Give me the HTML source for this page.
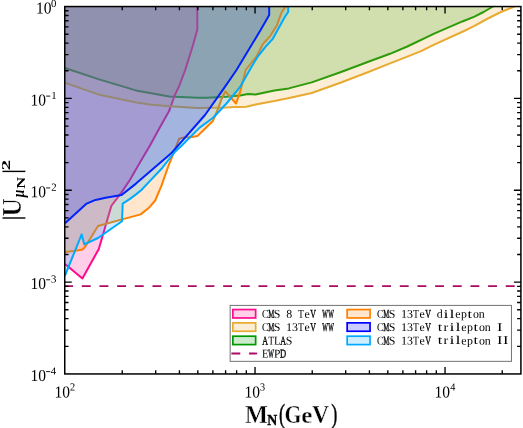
<!DOCTYPE html>
<html><head><meta charset="utf-8"><title>chart</title>
<style>
html,body{margin:0;padding:0;background:#fff;}
svg{will-change:transform;display:block;position:absolute;left:0;top:0;}
text{font-family:"Liberation Serif",serif;fill:#000;}
.mono{font-family:"Liberation Mono",monospace;}
</style></head><body>
<svg width="523" height="428" viewBox="0 0 523 428">
<rect x="0" y="0" width="523" height="428" fill="#fff"/>
<defs><clipPath id="ax"><rect x="64.75" y="6.55" width="456.15" height="367.4"/></clipPath></defs>
<g clip-path="url(#ax)">
<polygon points="62.8,68.0 65.0,68.0 98.2,79.1 138.4,91.1 150.0,93.0 169.1,96.4 197.8,97.7 207.3,97.7 226.5,96.8 240.3,95.4 247.9,94.1 255.6,94.5 274.4,90.6 288.8,88.4 311.7,82.4 340.4,72.2 369.0,61.5 390.0,53.8 407.3,46.5 434.7,33.4 463.0,21.2 474.5,16.6 483.6,12.0 493.0,6.5 493.0,4.5 62.8,4.5" fill="#009900" fill-opacity="0.2" stroke="none"/>
<polyline points="65.0,68.0 98.2,79.1 138.4,91.1 150.0,93.0 169.1,96.4 197.8,97.7 207.3,97.7 226.5,96.8 240.3,95.4 247.9,94.1 255.6,94.5 274.4,90.6 288.8,88.4 311.7,82.4 340.4,72.2 369.0,61.5 390.0,53.8 407.3,46.5 434.7,33.4 463.0,21.2 474.5,16.6 483.6,12.0 493.0,6.5" fill="none" stroke="#009900" stroke-width="2.0" stroke-linejoin="round" stroke-linecap="butt"/>
<polygon points="62.8,264.0 65.0,264.0 82.4,278.4 98.8,249.0 111.3,206.0 121.2,192.9 130.0,179.8 140.5,161.5 150.0,145.5 158.4,130.0 169.1,111.1 174.9,94.9 178.8,87.0 185.2,70.0 192.8,45.7 197.3,29.8 197.3,6.5 197.3,4.5 62.8,4.5" fill="#ff0a8c" fill-opacity="0.2" stroke="none"/>
<polyline points="65.0,264.0 82.4,278.4 98.8,249.0 111.3,206.0 121.2,192.9 130.0,179.8 140.5,161.5 150.0,145.5 158.4,130.0 169.1,111.1 174.9,94.9 178.8,87.0 185.2,70.0 192.8,45.7 197.3,29.8 197.3,6.5" fill="none" stroke="#ff0a8c" stroke-width="2.0" stroke-linejoin="round" stroke-linecap="butt"/>
<polygon points="62.8,82.7 65.0,82.7 98.2,94.4 136.5,102.6 150.0,104.4 169.1,106.3 197.8,107.9 226.5,107.5 234.2,106.9 240.3,107.1 246.4,106.8 255.6,104.5 274.4,101.1 289.2,97.9 311.7,93.0 340.4,82.7 369.0,71.7 390.0,63.4 407.3,56.6 421.0,51.1 434.7,44.3 463.0,31.5 474.5,25.8 485.9,19.5 500.9,12.0 514.6,6.5 514.6,4.5 62.8,4.5" fill="#e8aa30" fill-opacity="0.2" stroke="none"/>
<polyline points="65.0,82.7 98.2,94.4 136.5,102.6 150.0,104.4 169.1,106.3 197.8,107.9 226.5,107.5 234.2,106.9 240.3,107.1 246.4,106.8 255.6,104.5 274.4,101.1 289.2,97.9 311.7,93.0 340.4,82.7 369.0,71.7 390.0,63.4 407.3,56.6 421.0,51.1 434.7,44.3 463.0,31.5 474.5,25.8 485.9,19.5 500.9,12.0 514.6,6.5" fill="none" stroke="#e8aa30" stroke-width="2.0" stroke-linejoin="round" stroke-linecap="butt"/>
<polygon points="62.8,252.0 65.0,252.0 74.0,251.0 82.4,249.5 85.2,246.8 98.0,226.0 121.2,219.6 140.7,214.4 148.9,207.8 155.2,200.5 161.5,185.7 168.4,166.0 172.1,156.8 179.2,138.6 185.2,137.2 190.8,137.2 197.4,136.1 205.4,128.3 213.1,120.7 217.9,109.2 221.7,98.7 225.4,91.4 236.0,103.5 239.9,92.9 245.7,70.0 256.8,56.0 262.8,44.2 270.2,36.1 276.8,25.4 281.5,12.7 285.5,6.5 285.5,4.5 62.8,4.5" fill="#ff8000" fill-opacity="0.2" stroke="none"/>
<polyline points="65.0,252.0 74.0,251.0 82.4,249.5 85.2,246.8 98.0,226.0 121.2,219.6 140.7,214.4 148.9,207.8 155.2,200.5 161.5,185.7 168.4,166.0 172.1,156.8 179.2,138.6 185.2,137.2 190.8,137.2 197.4,136.1 205.4,128.3 213.1,120.7 217.9,109.2 221.7,98.7 225.4,91.4 236.0,103.5 239.9,92.9 245.7,70.0 256.8,56.0 262.8,44.2 270.2,36.1 276.8,25.4 281.5,12.7 285.5,6.5" fill="none" stroke="#ff8000" stroke-width="2.0" stroke-linejoin="round" stroke-linecap="butt"/>
<polygon points="62.8,223.3 65.0,223.3 86.1,203.9 95.5,199.9 105.6,197.7 121.6,195.0 136.0,183.6 155.2,167.1 171.2,153.3 205.0,115.0 223.7,88.7 236.5,70.0 260.6,30.0 269.2,14.9 269.2,6.5 269.2,4.5 62.8,4.5" fill="#0000ff" fill-opacity="0.2" stroke="none"/>
<polyline points="65.0,223.3 86.1,203.9 95.5,199.9 105.6,197.7 121.6,195.0 136.0,183.6 155.2,167.1 171.2,153.3 205.0,115.0 223.7,88.7 236.5,70.0 260.6,30.0 269.2,14.9 269.2,6.5" fill="none" stroke="#0000ff" stroke-width="2.0" stroke-linejoin="round" stroke-linecap="butt"/>
<polygon points="62.8,275.5 65.0,275.5 81.7,234.4 84.3,244.4 98.0,238.0 122.0,221.2 122.7,203.7 130.0,198.9 136.0,194.4 141.4,190.0 150.0,180.9 162.0,168.2 168.0,160.5 175.0,151.8 181.0,146.2 199.7,127.6 213.1,117.8 226.5,103.5 239.9,87.2 252.0,65.9 258.1,56.0 266.1,46.2 272.8,38.8 284.9,16.7 288.2,12.0 288.2,6.5 288.2,4.5 62.8,4.5" fill="#00aaff" fill-opacity="0.2" stroke="none"/>
<polyline points="65.0,275.5 81.7,234.4 84.3,244.4 98.0,238.0 122.0,221.2 122.7,203.7 130.0,198.9 136.0,194.4 141.4,190.0 150.0,180.9 162.0,168.2 168.0,160.5 175.0,151.8 181.0,146.2 199.7,127.6 213.1,117.8 226.5,103.5 239.9,87.2 252.0,65.9 258.1,56.0 266.1,46.2 272.8,38.8 284.9,16.7 288.2,12.0 288.2,6.5" fill="none" stroke="#00aaff" stroke-width="2.0" stroke-linejoin="round" stroke-linecap="butt"/>
<line x1="64.15" y1="286.1" x2="520.9" y2="286.1" stroke="#ab0a65" stroke-width="1.8" stroke-dasharray="8.9 8.765"/>
</g>
<path d="M122.23,373.95v-3.8M122.23,6.55v3.8M155.68,373.95v-3.8M155.68,6.55v3.8M179.42,373.95v-3.8M179.42,6.55v3.8M197.83,373.95v-3.8M197.83,6.55v3.8M212.88,373.95v-3.8M212.88,6.55v3.8M225.60,373.95v-3.8M225.60,6.55v3.8M236.62,373.95v-3.8M236.62,6.55v3.8M246.34,373.95v-3.8M246.34,6.55v3.8M255.03,373.95v-7M255.03,6.55v7M312.23,373.95v-3.8M312.23,6.55v3.8M345.68,373.95v-3.8M345.68,6.55v3.8M369.42,373.95v-3.8M369.42,6.55v3.8M387.83,373.95v-3.8M387.83,6.55v3.8M402.88,373.95v-3.8M402.88,6.55v3.8M415.60,373.95v-3.8M415.60,6.55v3.8M426.62,373.95v-3.8M426.62,6.55v3.8M436.34,373.95v-3.8M436.34,6.55v3.8M445.03,373.95v-7M445.03,6.55v7M502.23,373.95v-3.8M502.23,6.55v3.8M64.75,346.30h3.8M520.9,346.30h-3.8M64.75,330.13h3.8M520.9,330.13h-3.8M64.75,318.65h3.8M520.9,318.65h-3.8M64.75,309.75h3.8M520.9,309.75h-3.8M64.75,302.48h3.8M520.9,302.48h-3.8M64.75,296.33h3.8M520.9,296.33h-3.8M64.75,291.00h3.8M520.9,291.00h-3.8M64.75,286.30h3.8M520.9,286.30h-3.8M64.75,282.10h7M520.9,282.10h-7M64.75,254.45h3.8M520.9,254.45h-3.8M64.75,238.28h3.8M520.9,238.28h-3.8M64.75,226.80h3.8M520.9,226.80h-3.8M64.75,217.90h3.8M520.9,217.90h-3.8M64.75,210.63h3.8M520.9,210.63h-3.8M64.75,204.48h3.8M520.9,204.48h-3.8M64.75,199.15h3.8M520.9,199.15h-3.8M64.75,194.45h3.8M520.9,194.45h-3.8M64.75,190.25h7M520.9,190.25h-7M64.75,162.60h3.8M520.9,162.60h-3.8M64.75,146.43h3.8M520.9,146.43h-3.8M64.75,134.95h3.8M520.9,134.95h-3.8M64.75,126.05h3.8M520.9,126.05h-3.8M64.75,118.78h3.8M520.9,118.78h-3.8M64.75,112.63h3.8M520.9,112.63h-3.8M64.75,107.30h3.8M520.9,107.30h-3.8M64.75,102.60h3.8M520.9,102.60h-3.8M64.75,98.40h7M520.9,98.40h-7M64.75,70.75h3.8M520.9,70.75h-3.8M64.75,54.58h3.8M520.9,54.58h-3.8M64.75,43.10h3.8M520.9,43.10h-3.8M64.75,34.20h3.8M520.9,34.20h-3.8M64.75,26.93h3.8M520.9,26.93h-3.8M64.75,20.78h3.8M520.9,20.78h-3.8M64.75,15.45h3.8M520.9,15.45h-3.8M64.75,10.75h3.8M520.9,10.75h-3.8" stroke="#000" stroke-width="1.35" fill="none"/>
<rect x="64.75" y="6.55" width="456.15" height="367.4" fill="none" stroke="#000" stroke-width="1.5"/>
<text transform="translate(51.11,7.05) scale(0.1080,0.1080) rotate(0.03)" font-size="100" >0</text><text transform="translate(36.06,13.55) scale(0.1553,0.1670) rotate(0.03)" font-size="100" >10</text>
<text transform="translate(51.35,98.90) scale(0.1080,0.1080) rotate(0.03)" font-size="100" >1</text><rect x="46.1" y="95.65" width="4.1" height="0.9"/><text transform="translate(30.56,105.40) scale(0.1553,0.1670) rotate(0.03)" font-size="100" >10</text>
<text transform="translate(51.30,190.75) scale(0.1080,0.1080) rotate(0.03)" font-size="100" >2</text><rect x="46.1" y="187.50" width="4.1" height="0.9"/><text transform="translate(30.56,197.25) scale(0.1553,0.1670) rotate(0.03)" font-size="100" >10</text>
<text transform="translate(51.12,282.60) scale(0.1080,0.1080) rotate(0.03)" font-size="100" >3</text><rect x="46.1" y="279.35" width="4.1" height="0.9"/><text transform="translate(30.56,289.10) scale(0.1553,0.1670) rotate(0.03)" font-size="100" >10</text>
<text transform="translate(50.87,374.45) scale(0.1080,0.1080) rotate(0.03)" font-size="100" >4</text><rect x="46.1" y="371.20" width="4.1" height="0.9"/><text transform="translate(30.56,380.95) scale(0.1553,0.1670) rotate(0.03)" font-size="100" >10</text>
<text transform="translate(54.56,397.50) scale(0.1553,0.1670) rotate(0.03)" font-size="100" >10</text><text transform="translate(70.03,390.60) scale(0.1026,0.1080) rotate(0.03)" font-size="100" >2</text>
<text transform="translate(244.56,397.50) scale(0.1553,0.1670) rotate(0.03)" font-size="100" >10</text><text transform="translate(259.99,390.60) scale(0.1026,0.1080) rotate(0.03)" font-size="100" >3</text>
<text transform="translate(434.56,397.50) scale(0.1553,0.1670) rotate(0.03)" font-size="100" >10</text><text transform="translate(450.28,390.60) scale(0.1026,0.1080) rotate(0.03)" font-size="100" >4</text>
<g><text transform="translate(244.99,422.90) scale(0.2428,0.2489)" font-size="100" font-weight="bold" stroke="#fff" stroke-width="0.35" vector-effect="non-scaling-stroke">M</text><text transform="translate(267.14,424.80) scale(0.1377,0.1390)" font-size="100" font-weight="bold" stroke="#000" stroke-width="0.35" vector-effect="non-scaling-stroke">N</text><text transform="translate(278.90,422.75) scale(0.1830,0.2746)" font-size="100"  stroke="#000" stroke-width="0.35" vector-effect="non-scaling-stroke">(</text><text transform="translate(284.44,423.05) scale(0.2181,0.2545)" font-size="100" font-weight="bold" stroke="#fff" stroke-width="0.35" vector-effect="non-scaling-stroke">G</text><text transform="translate(301.25,423.08) scale(0.2501,0.2357)" font-size="100" font-weight="bold" stroke="#fff" stroke-width="0.35" vector-effect="non-scaling-stroke">e</text><text transform="translate(312.03,422.82) scale(0.2372,0.2478)" font-size="100" font-weight="bold" stroke="#fff" stroke-width="0.35" vector-effect="non-scaling-stroke">V</text><text transform="translate(331.21,422.75) scale(0.1830,0.2746)" font-size="100"  stroke="#000" stroke-width="0.35" vector-effect="non-scaling-stroke">)</text></g>
<g transform="translate(20.5,190) rotate(-90)"><rect x="-28.7" y="-18" width="1.4" height="22.9"/><text transform="translate(-26.43,0.15) scale(0.2528,0.2650)" font-size="100" font-weight="bold" stroke="#fff" stroke-width="0.35" vector-effect="non-scaling-stroke">U</text><text transform="translate(-7.32,3.14) scale(0.1361,0.1578)" font-size="100" font-weight="bold" font-style="italic" >μ</text><text transform="translate(1.19,4.00) scale(0.1652,0.1298)" font-size="100" font-weight="bold" >N</text><rect x="17.9" y="-18" width="1.4" height="22.9"/><text transform="translate(19.72,-10.70) scale(0.2096,0.1238)" font-size="100" font-weight="bold" >2</text></g>
<rect x="230.15" y="305.4" width="281.29999999999995" height="55.950000000000045" fill="#fff" stroke="#727272" stroke-width="1"/>
<rect x="232.85" y="309.55" width="22.80" height="8.40" fill="#ff0a8c" fill-opacity="0.2" stroke="none"/><rect x="232.85" y="309.55" width="22.80" height="8.40" fill="none" stroke="#ff0a8c" stroke-width="1.7"/>
<text transform="translate(261.99,317.75) scale(0.0981,0.1190) rotate(0.03)" font-size="100">C</text><text transform="translate(268.18,317.75) scale(0.0674,0.1190) rotate(0.03)" font-size="100" stroke="#000" stroke-width="0.3" vector-effect="non-scaling-stroke">M</text><text transform="translate(273.81,317.75) scale(0.1190,0.1190) rotate(0.03)" font-size="100">S</text><text transform="translate(286.14,317.75) scale(0.1190,0.1190) rotate(0.03)" font-size="100">8</text><text transform="translate(298.09,317.75) scale(0.0972,0.1190) rotate(0.03)" font-size="100">T</text><text transform="translate(304.38,317.75) scale(0.1190,0.1190) rotate(0.03)" font-size="100">e</text><text transform="translate(310.14,317.75) scale(0.0800,0.1190) rotate(0.03)" font-size="100" stroke="#000" stroke-width="0.3" vector-effect="non-scaling-stroke">V</text><text transform="translate(322.18,317.75) scale(0.0595,0.1190) rotate(0.03)" font-size="100" stroke="#000" stroke-width="0.3" vector-effect="non-scaling-stroke">W</text><text transform="translate(328.16,317.75) scale(0.0595,0.1190) rotate(0.03)" font-size="100" stroke="#000" stroke-width="0.3" vector-effect="non-scaling-stroke">W</text>
<rect x="232.85" y="322.85" width="22.80" height="8.40" fill="#e8aa30" fill-opacity="0.2" stroke="none"/><rect x="232.85" y="322.85" width="22.80" height="8.40" fill="none" stroke="#e8aa30" stroke-width="1.7"/>
<text transform="translate(261.99,331.05) scale(0.0981,0.1190) rotate(0.03)" font-size="100">C</text><text transform="translate(268.18,331.05) scale(0.0674,0.1190) rotate(0.03)" font-size="100" stroke="#000" stroke-width="0.3" vector-effect="non-scaling-stroke">M</text><text transform="translate(273.81,331.05) scale(0.1190,0.1190) rotate(0.03)" font-size="100">S</text><text transform="translate(285.89,331.05) scale(0.1221,0.1190) rotate(0.03)" font-size="100">1</text><text transform="translate(292.06,331.05) scale(0.1190,0.1190) rotate(0.03)" font-size="100">3</text><text transform="translate(298.09,331.05) scale(0.0972,0.1190) rotate(0.03)" font-size="100">T</text><text transform="translate(304.38,331.05) scale(0.1190,0.1190) rotate(0.03)" font-size="100">e</text><text transform="translate(310.14,331.05) scale(0.0800,0.1190) rotate(0.03)" font-size="100" stroke="#000" stroke-width="0.3" vector-effect="non-scaling-stroke">V</text><text transform="translate(322.18,331.05) scale(0.0595,0.1190) rotate(0.03)" font-size="100" stroke="#000" stroke-width="0.3" vector-effect="non-scaling-stroke">W</text><text transform="translate(328.16,331.05) scale(0.0595,0.1190) rotate(0.03)" font-size="100" stroke="#000" stroke-width="0.3" vector-effect="non-scaling-stroke">W</text>
<rect x="232.85" y="336.20" width="22.80" height="8.40" fill="#009900" fill-opacity="0.2" stroke="none"/><rect x="232.85" y="336.20" width="22.80" height="8.40" fill="none" stroke="#009900" stroke-width="1.7"/>
<text transform="translate(262.31,344.40) scale(0.0794,0.1190) rotate(0.03)" font-size="100" stroke="#000" stroke-width="0.3" vector-effect="non-scaling-stroke">A</text><text transform="translate(268.19,344.40) scale(0.0972,0.1190) rotate(0.03)" font-size="100">T</text><text transform="translate(274.04,344.40) scale(0.1073,0.1190) rotate(0.03)" font-size="100">L</text><text transform="translate(280.25,344.40) scale(0.0794,0.1190) rotate(0.03)" font-size="100" stroke="#000" stroke-width="0.3" vector-effect="non-scaling-stroke">A</text><text transform="translate(285.77,344.40) scale(0.1190,0.1190) rotate(0.03)" font-size="100">S</text>
<line x1="231.4" y1="353.5" x2="257.2" y2="353.5" stroke="#ab0a65" stroke-width="1.8" stroke-dasharray="8.9 8.765"/>
<text transform="translate(262.09,357.50) scale(0.1052,0.1190) rotate(0.03)" font-size="100">E</text><text transform="translate(268.36,357.50) scale(0.0595,0.1190) rotate(0.03)" font-size="100" stroke="#000" stroke-width="0.3" vector-effect="non-scaling-stroke">W</text><text transform="translate(274.02,357.50) scale(0.1149,0.1190) rotate(0.03)" font-size="100">P</text><text transform="translate(280.08,357.50) scale(0.0857,0.1190) rotate(0.03)" font-size="100" stroke="#000" stroke-width="0.3" vector-effect="non-scaling-stroke">D</text>
<rect x="347.15" y="309.55" width="22.90" height="8.40" fill="#ff8000" fill-opacity="0.2" stroke="none"/><rect x="347.15" y="309.55" width="22.90" height="8.40" fill="none" stroke="#ff8000" stroke-width="1.7"/>
<text transform="translate(376.99,317.75) scale(0.0981,0.1190) rotate(0.03)" font-size="100">C</text><text transform="translate(383.18,317.75) scale(0.0674,0.1190) rotate(0.03)" font-size="100" stroke="#000" stroke-width="0.3" vector-effect="non-scaling-stroke">M</text><text transform="translate(388.81,317.75) scale(0.1190,0.1190) rotate(0.03)" font-size="100">S</text><text transform="translate(400.89,317.75) scale(0.1221,0.1190) rotate(0.03)" font-size="100">1</text><text transform="translate(407.06,317.75) scale(0.1190,0.1190) rotate(0.03)" font-size="100">3</text><text transform="translate(413.09,317.75) scale(0.0972,0.1190) rotate(0.03)" font-size="100">T</text><text transform="translate(419.38,317.75) scale(0.1190,0.1190) rotate(0.03)" font-size="100">e</text><text transform="translate(425.14,317.75) scale(0.0800,0.1190) rotate(0.03)" font-size="100" stroke="#000" stroke-width="0.3" vector-effect="non-scaling-stroke">V</text><text transform="translate(436.87,317.75) scale(0.1190,0.1190) rotate(0.03)" font-size="100">d</text><text transform="translate(443.44,317.75) scale(0.1808,0.1190) rotate(0.03)" font-size="100">i</text><text transform="translate(449.44,317.75) scale(0.1808,0.1190) rotate(0.03)" font-size="100">l</text><text transform="translate(455.26,317.75) scale(0.1190,0.1190) rotate(0.03)" font-size="100">e</text><text transform="translate(461.07,317.75) scale(0.1190,0.1190) rotate(0.03)" font-size="100">p</text><text transform="translate(467.58,317.75) scale(0.1640,0.1190) rotate(0.03)" font-size="100">t</text><text transform="translate(472.90,317.75) scale(0.1190,0.1190) rotate(0.03)" font-size="100">o</text><text transform="translate(478.83,317.75) scale(0.1190,0.1190) rotate(0.03)" font-size="100">n</text>
<rect x="347.15" y="322.85" width="22.90" height="8.40" fill="#0000ff" fill-opacity="0.2" stroke="none"/><rect x="347.15" y="322.85" width="22.90" height="8.40" fill="none" stroke="#0000ff" stroke-width="1.7"/>
<text transform="translate(376.99,331.05) scale(0.0981,0.1190) rotate(0.03)" font-size="100">C</text><text transform="translate(383.18,331.05) scale(0.0674,0.1190) rotate(0.03)" font-size="100" stroke="#000" stroke-width="0.3" vector-effect="non-scaling-stroke">M</text><text transform="translate(388.81,331.05) scale(0.1190,0.1190) rotate(0.03)" font-size="100">S</text><text transform="translate(400.89,331.05) scale(0.1221,0.1190) rotate(0.03)" font-size="100">1</text><text transform="translate(407.06,331.05) scale(0.1190,0.1190) rotate(0.03)" font-size="100">3</text><text transform="translate(413.09,331.05) scale(0.0972,0.1190) rotate(0.03)" font-size="100">T</text><text transform="translate(419.38,331.05) scale(0.1190,0.1190) rotate(0.03)" font-size="100">e</text><text transform="translate(425.14,331.05) scale(0.0800,0.1190) rotate(0.03)" font-size="100" stroke="#000" stroke-width="0.3" vector-effect="non-scaling-stroke">V</text><text transform="translate(437.68,331.05) scale(0.1640,0.1190) rotate(0.03)" font-size="100">t</text><text transform="translate(443.54,331.05) scale(0.1414,0.1190) rotate(0.03)" font-size="100">r</text><text transform="translate(449.42,331.05) scale(0.1808,0.1190) rotate(0.03)" font-size="100">i</text><text transform="translate(455.42,331.05) scale(0.1808,0.1190) rotate(0.03)" font-size="100">l</text><text transform="translate(461.24,331.05) scale(0.1190,0.1190) rotate(0.03)" font-size="100">e</text><text transform="translate(467.05,331.05) scale(0.1190,0.1190) rotate(0.03)" font-size="100">p</text><text transform="translate(473.56,331.05) scale(0.1640,0.1190) rotate(0.03)" font-size="100">t</text><text transform="translate(478.88,331.05) scale(0.1190,0.1190) rotate(0.03)" font-size="100">o</text><text transform="translate(484.81,331.05) scale(0.1190,0.1190) rotate(0.03)" font-size="100">n</text><text transform="translate(497.05,331.05) scale(0.1643,0.1190) rotate(0.03)" font-size="100">I</text>
<rect x="347.15" y="336.20" width="22.90" height="8.40" fill="#00aaff" fill-opacity="0.2" stroke="none"/><rect x="347.15" y="336.20" width="22.90" height="8.40" fill="none" stroke="#00aaff" stroke-width="1.7"/>
<text transform="translate(376.99,344.40) scale(0.0981,0.1190) rotate(0.03)" font-size="100">C</text><text transform="translate(383.18,344.40) scale(0.0674,0.1190) rotate(0.03)" font-size="100" stroke="#000" stroke-width="0.3" vector-effect="non-scaling-stroke">M</text><text transform="translate(388.81,344.40) scale(0.1190,0.1190) rotate(0.03)" font-size="100">S</text><text transform="translate(400.89,344.40) scale(0.1221,0.1190) rotate(0.03)" font-size="100">1</text><text transform="translate(407.06,344.40) scale(0.1190,0.1190) rotate(0.03)" font-size="100">3</text><text transform="translate(413.09,344.40) scale(0.0972,0.1190) rotate(0.03)" font-size="100">T</text><text transform="translate(419.38,344.40) scale(0.1190,0.1190) rotate(0.03)" font-size="100">e</text><text transform="translate(425.14,344.40) scale(0.0800,0.1190) rotate(0.03)" font-size="100" stroke="#000" stroke-width="0.3" vector-effect="non-scaling-stroke">V</text><text transform="translate(437.68,344.40) scale(0.1640,0.1190) rotate(0.03)" font-size="100">t</text><text transform="translate(443.54,344.40) scale(0.1414,0.1190) rotate(0.03)" font-size="100">r</text><text transform="translate(449.42,344.40) scale(0.1808,0.1190) rotate(0.03)" font-size="100">i</text><text transform="translate(455.42,344.40) scale(0.1808,0.1190) rotate(0.03)" font-size="100">l</text><text transform="translate(461.24,344.40) scale(0.1190,0.1190) rotate(0.03)" font-size="100">e</text><text transform="translate(467.05,344.40) scale(0.1190,0.1190) rotate(0.03)" font-size="100">p</text><text transform="translate(473.56,344.40) scale(0.1640,0.1190) rotate(0.03)" font-size="100">t</text><text transform="translate(478.88,344.40) scale(0.1190,0.1190) rotate(0.03)" font-size="100">o</text><text transform="translate(484.81,344.40) scale(0.1190,0.1190) rotate(0.03)" font-size="100">n</text><text transform="translate(497.05,344.40) scale(0.1643,0.1190) rotate(0.03)" font-size="100">I</text><text transform="translate(503.03,344.40) scale(0.1643,0.1190) rotate(0.03)" font-size="100">I</text>
</svg>
</body></html>
